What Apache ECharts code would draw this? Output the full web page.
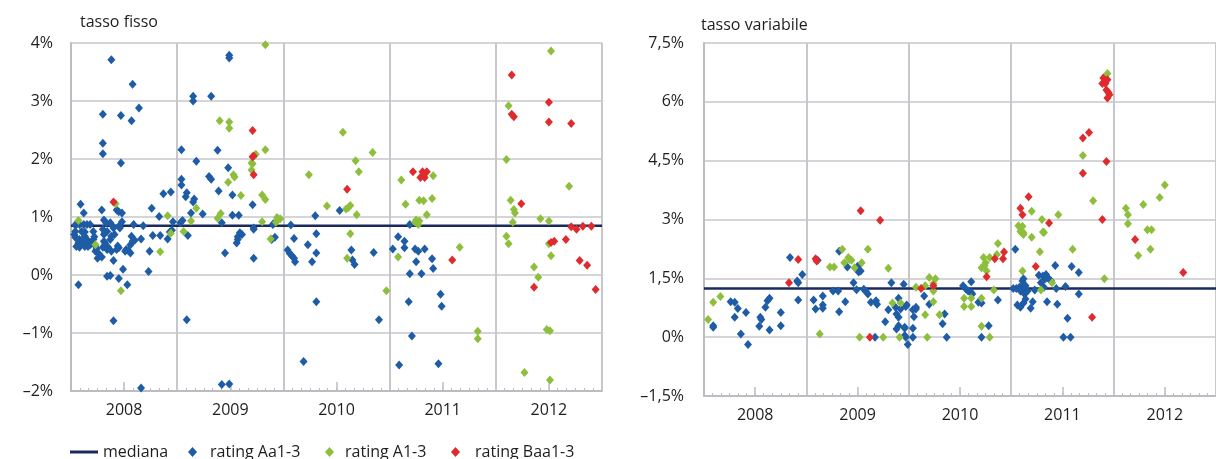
<!DOCTYPE html>
<html>
<head>
<meta charset="utf-8">
<script src="https://cdn.jsdelivr.net/npm/echarts@6/dist/echarts.min.js"></script>
<style>
html,body{margin:0;padding:0;background:#fff;}
#chart{width:1216px;height:459px;}
</style>
</head>
<body>
<div id="chart"></div>
<script>
// ---------- data ----------
var yearLabels = [2008, 2009, 2010, 2011, 2012];
var labelPositions = [2008.5, 2009.5, 2010.5, 2011.5, 2012.5];
var xMin = 2008, xMax = 2013;

var fissoTicks = [-2, -1, 0, 1, 2, 3, 4];
var variabileTicks = [-1.5, 0, 1.5, 3, 4.5, 6, 7.5];

var medianaFisso = 0.85;
var medianaVariabile = 1.24;

var seriesNames = ['mediana', 'rating Aa1-3', 'rating A1-3', 'rating Baa1-3'];

// tasso fisso: [anno, tasso %]
var fissoAa = [
 [2008.38,3.71],[2008.58,3.29],[2008.64,2.88],[2008.30,2.77],[2008.47,2.75],[2008.57,2.66],[2008.30,2.27],[2008.30,2.09],[2008.47,1.93],
 [2009.04,2.16],[2009.15,3.08],[2009.15,3.00],[2009.32,3.08],[2009.49,3.79],[2009.49,3.74],[2009.38,2.15],[2009.18,1.96],[2009.48,1.85],
 [2009.04,1.65],[2009.04,1.55],[2009.30,1.70],[2009.32,1.65],[2009.09,1.42],[2009.08,1.35],[2009.39,1.45],[2009.52,1.38],[2008.87,1.40],
 [2008.94,1.43],[2008.76,1.15],[2009.16,1.31],[2009.15,1.26],[2009.13,1.07],[2009.24,1.05],[2009.52,1.03],[2009.58,1.03],[2009.71,1.21],
 [2010.30,1.02],[2008.09,1.22],[2008.12,1.07],[2008.29,1.12],[2008.43,1.12],[2008.48,1.07],[2008.45,1.09],[2008.83,1.01],[2009.91,0.89],[2010.07,0.86],
 [2008.07,-0.17],[2008.66,-1.95],[2008.40,-0.79],[2009.09,-0.77],[2009.42,-1.89],[2009.49,-1.88],[2010.19,-1.49],[2010.31,-0.46],
 [2008.34,-0.02],[2008.37,-0.01],[2008.45,-0.06],[2008.53,-0.17],[2008.49,0.10],[2008.73,0.06],[2008.40,0.25],[2008.25,0.29],[2008.29,0.31],
 [2008.74,0.41],[2008.56,0.38],[2008.54,0.42],[2008.52,0.44],[2008.51,0.41],[2008.34,0.45],[2008.44,0.50],[2008.45,0.47],[2008.43,0.44],
 [2008.38,0.41],[2008.57,0.67],[2008.58,0.58],[2008.56,0.52],[2008.60,0.60],[2008.66,0.62],[2008.68,0.85],[2008.77,0.68],[2008.84,0.68],
 [2008.91,0.62],[2008.93,0.74],[2008.95,0.77],[2008.96,0.92],[2008.59,0.87],[2008.48,0.92],[2008.45,0.84],[2008.46,0.81],[2008.41,0.70],
 [2008.38,0.67],[2008.37,0.61],[2008.38,0.87],[2008.37,0.90],[2008.40,0.81],[2008.31,0.95],[2008.33,0.90],[2008.30,0.79],[2008.34,0.75],
 [2008.32,0.73],[2008.32,0.55],[2008.30,0.48],[2008.34,0.44],[2008.35,0.48],[2008.23,0.41],[2008.24,0.45],[2008.26,0.37],[2008.18,0.87],
 [2008.15,0.87],[2008.12,0.87],[2008.08,0.87],[2008.05,0.87],[2008.04,0.86],[2008.21,0.75],[2008.04,0.75],[2008.05,0.64],[2008.08,0.61],
 [2008.07,0.55],[2008.10,0.58],[2008.12,0.52],[2008.05,0.49],[2008.08,0.48],[2008.13,0.67],[2008.15,0.61],[2008.16,0.55],[2008.13,0.49],
 [2008.16,0.49],[2008.18,0.52],[2008.21,0.61],[2008.19,0.55],[2008.10,0.75],[2008.13,0.74],[2008.22,0.66],[2008.23,0.50],[2008.33,0.47],
 [2008.31,0.58],[2008.31,0.70],[2008.03,0.70],[2008.04,0.65],
 [2009.03,0.90],[2009.05,0.94],[2009.10,0.68],[2009.45,0.38],[2009.57,0.66],[2009.59,0.73],[2009.61,0.70],[2009.56,0.55],[2009.57,0.61],
 [2009.72,0.29],[2009.72,0.81],[2009.72,0.79],[2009.89,0.61],[2009.92,0.65],[2009.90,0.87],[2009.42,0.90],
 [2010.10,0.63],[2010.04,0.43],[2010.06,0.37],[2010.08,0.33],[2010.10,0.29],[2010.11,0.23],[2010.23,0.52],[2010.27,0.23],[2010.31,0.38],[2010.31,0.71],
 [2010.53,1.11],[2010.64,0.43],[2010.65,0.26],[2010.67,0.18],[2010.85,0.39],[2010.90,-0.77],[2011.08,0.66],[2011.14,0.58],[2011.14,0.47],
 [2011.03,0.45],[2011.19,0.87],[2011.24,0.45],[2011.27,0.41],[2011.33,0.45],[2011.25,0.23],[2011.19,0.02],[2011.30,0.02],[2011.40,0.28],
 [2011.41,0.11],[2011.18,-0.46],[2011.48,-0.33],[2011.49,-0.54],[2011.21,-1.05],[2011.09,-1.55],[2011.46,-1.53]
];
var fissoA = [
 [2009.83,3.97],[2009.40,2.66],[2009.49,2.64],[2009.49,2.53],[2009.83,2.16],[2009.74,2.08],[2009.70,1.93],[2009.71,1.92],[2009.70,1.81],
 [2009.48,1.60],[2009.53,1.73],[2009.54,1.69],[2009.60,1.37],[2009.80,1.38],[2009.83,1.30],[2009.18,1.15],[2009.41,1.06],[2009.38,0.98],
 [2008.91,1.02],[2009.13,0.93],[2009.80,0.92],[2009.94,0.99],[2009.97,0.97],[2009.93,0.91],[2010.24,1.73],[2008.07,0.94],[2008.42,1.23],
 [2008.23,0.52],[2008.47,-0.27],[2008.84,0.40],[2008.94,0.72],[2009.06,0.75],[2009.88,0.62],
 [2012.52,3.86],[2012.12,2.92],[2012.10,1.99],[2012.69,1.53],[2012.14,1.29],[2012.17,1.13],[2012.18,1.07],[2012.16,0.91],[2012.42,0.97],
 [2012.50,0.93],[2010.56,2.46],[2010.84,2.11],[2010.68,1.97],[2010.71,1.78],[2010.41,1.19],[2010.63,1.20],[2010.61,1.16],[2010.59,1.14],
 [2010.69,1.04],[2011.11,1.64],[2011.41,1.71],[2011.15,1.22],[2011.28,1.29],[2011.32,1.28],[2011.40,1.32],[2011.35,1.04],[2011.25,0.95],
 [2011.28,0.93],[2011.24,0.91],[2011.27,0.87],[2010.63,0.71],[2010.60,0.29],[2010.97,-0.27],[2011.08,0.31],[2011.66,0.48],[2011.83,-0.97],
 [2011.83,-1.10],[2012.10,0.67],[2012.12,0.54],[2012.50,0.54],[2012.52,0.33],[2012.36,0.14],[2012.40,-0.04],[2012.48,-0.94],[2012.51,-0.96],
 [2012.27,-1.68],[2012.51,-1.81]
];
var fissoBaa = [
 [2009.71,2.49],[2009.71,2.04],[2009.72,2.05],[2009.72,1.73],[2008.40,1.26],[2012.15,3.45],[2012.50,2.98],[2012.15,2.77],[2012.17,2.73],
 [2012.50,2.64],[2012.71,2.61],[2010.60,1.48],[2011.22,1.78],[2011.31,1.78],[2011.35,1.78],[2011.29,1.68],[2011.33,1.68],[2011.32,1.73],
 [2012.24,1.23],[2012.71,0.83],[2012.76,0.79],[2012.82,0.84],[2012.90,0.84],[2011.59,0.26],[2012.55,0.58],[2012.52,0.56],[2012.66,0.61],
 [2012.36,-0.21],[2012.79,0.25],[2012.86,0.17],[2012.94,-0.25]
];

// tasso variabile: [anno, tasso %]
var variabileAa = [
 [2008.09,0.29],[2008.09,0.25],[2008.26,0.90],[2008.30,0.89],[2008.30,0.51],[2008.33,0.73],[2008.36,0.08],[2008.41,0.63],[2008.43,-0.19],
 [2008.55,0.51],[2008.56,0.45],[2008.54,0.28],[2008.60,0.76],[2008.62,0.93],[2008.64,0.99],[2008.64,0.18],[2008.75,0.63],[2008.75,0.29],
 [2008.84,2.03],[2008.91,1.43],[2008.92,1.39],[2008.96,1.60],[2008.92,0.95],[2009.07,0.95],[2009.09,0.72],[2009.16,1.05],[2009.16,0.82],
 [2009.16,0.74],[2009.26,1.18],[2009.31,1.18],[2009.32,0.65],[2009.32,2.19],[2009.38,0.90],[2009.40,1.79],[2009.46,1.39],[2009.49,1.21],
 [2009.50,1.81],[2009.51,1.66],[2009.53,1.69],[2009.56,1.22],[2009.58,1.18],[2009.60,1.10],[2009.63,0.89],[2009.68,0.93],[2009.69,0.84],
 [2009.67,0.00],[2009.77,0.39],[2009.80,0.70],[2009.83,1.39],[2009.88,0.21],[2009.90,0.29],[2009.87,0.76],[2009.88,0.59],[2009.90,0.51],
 [2009.92,0.72],[2009.90,0.99],[2009.95,1.35],[2009.96,0.25],[2009.96,0.04],[2009.99,-0.19],[2009.98,0.82],[2009.11,1.96],[2009.96,0.23],
 [2010.04,0.23],[2009.97,0.00],[2010.04,0.00],[2010.05,0.52],[2010.07,0.72],[2010.04,0.70],[2009.97,0.78],[2010.07,0.76],
 [2010.15,1.05],[2010.20,0.84],[2010.35,0.59],[2010.33,0.34],[2010.37,0.00],[2010.53,1.31],[2010.56,1.22],[2010.58,1.18],[2010.61,1.14],
 [2010.62,1.10],[2010.61,1.41],[2010.68,0.89],[2010.71,0.87],[2010.87,0.95],[2010.78,0.29],[2010.71,0.00],[2011.04,2.24],[2011.02,1.24],
 [2011.05,1.24],[2011.08,1.27],[2011.09,1.18],[2011.11,1.22],[2011.12,1.35],[2011.11,1.43],[2011.14,1.31],[2011.16,1.18],[2011.12,1.49],
 [2011.13,1.10],[2011.14,0.97],[2011.12,0.87],[2011.06,0.82],[2011.09,0.76],[2011.19,0.74],[2011.21,0.90],[2011.23,1.20],[2011.27,1.58],
 [2011.31,1.56],[2011.34,1.60],[2011.35,1.52],[2011.37,1.48],[2011.39,1.43],[2011.33,1.48],[2011.29,1.39],[2011.32,1.27],[2011.43,1.83],
 [2011.44,1.24],[2011.53,1.29],[2011.59,1.80],[2011.66,1.65],[2011.66,1.10],[2011.35,0.90],[2011.45,0.84],[2011.55,0.48],[2011.51,0.00],[2011.58,0.00]
];
var variabileA = [
 [2008.04,0.45],[2008.09,0.89],[2008.16,1.04],[2009.13,0.08],[2009.23,1.79],[2009.27,1.79],[2009.35,2.24],[2009.37,1.90],[2009.41,2.03],
 [2009.44,1.96],[2009.42,1.98],[2009.47,1.77],[2009.54,1.90],[2009.60,2.24],[2009.52,0.00],[2009.75,0.00],[2009.80,1.76],[2009.84,0.87],
 [2009.92,0.87],[2009.91,0.00],
 [2010.07,1.27],[2010.16,1.31],[2010.20,1.52],[2010.26,1.49],[2010.24,1.37],[2010.24,1.18],[2010.24,0.90],[2010.16,0.57],[2010.30,0.57],
 [2010.18,0.00],[2010.54,0.99],[2010.61,0.99],[2010.71,0.99],[2010.54,0.78],[2010.61,0.78],[2010.71,0.28],[2010.79,0.00],[2010.83,1.20],
 [2010.71,1.77],[2010.74,1.83],[2010.75,1.90],[2010.73,2.03],[2010.76,1.69],[2010.79,2.03],[2010.86,2.11],[2010.87,2.39],[2011.11,1.69],
 [2011.29,1.20],[2011.40,1.39],[2011.28,2.18],[2011.20,2.55],[2011.32,2.67],[2011.10,2.67],[2011.12,2.62],[2011.60,2.24],[2011.91,1.49],
 [2011.20,3.21],[2011.07,2.84],[2011.11,2.83],[2011.09,2.70],[2011.12,2.66],[2011.30,3.00],[2011.46,3.12],[2011.31,2.68],[2011.80,3.48],
 [2012.12,3.29],[2012.14,3.12],[2012.14,2.89],[2012.29,3.38],[2012.33,2.74],[2012.37,2.74],[2012.24,2.08],[2012.36,2.24],[2011.94,6.72],
 [2011.70,4.63],[2012.50,3.88],[2012.45,3.56]
];
var variabileBaa = [
 [2009.53,3.22],[2009.72,2.98],[2008.83,1.39],[2008.92,1.98],[2009.09,2.00],[2009.10,1.94],[2009.62,0.00],[2010.12,1.24],[2010.24,1.31],
 [2010.76,1.54],[2010.84,2.00],[2010.92,2.00],[2010.93,2.17],[2011.24,1.80],[2011.79,0.51],[2011.09,3.29],[2011.11,3.12],[2011.37,2.91],
 [2011.89,3.00],[2012.21,2.49],[2012.68,1.65],[2011.90,6.61],[2011.94,6.56],[2011.89,6.47],[2011.92,6.47],[2011.93,6.30],[2011.95,6.24],
 [2011.96,6.18],[2011.94,6.10],[2011.70,5.08],[2011.76,5.22],[2011.93,4.48],[2011.70,4.18],[2011.17,3.58]
];

// ---------- style ----------
var FONT = "'Open Sans', 'Noto Sans', sans-serif";
var TEXT = '#1e1e1e';
var BLUE = '#1f5ca6', GREEN = '#8dbf3c', RED = '#df2a2e', NAVY = '#1b2a5c';
var GRIDC = '#c7c7cc', AXISC = '#bcbcc2';

function pct(v, comma) {
  var s = String(Math.abs(v));
  if (comma) s = s.replace('.', ',');
  return (v < 0 ? '\u2013' : '') + s + '%';
}

function gridAxes(gridIndex) {
  return [
    { // main axis: grid lines, monthly minor ticks
      type: 'value', gridIndex: gridIndex, min: xMin, max: xMax, interval: 1,
      axisLine: { show: true, onZero: false, lineStyle: { color: AXISC, width: 2 } },
      axisTick: { show: false, inside: true },
      minorTick: { show: true, splitNumber: 12, length: 3, lineStyle: { color: AXISC, width: 1 } },
      axisLabel: { show: false },
      splitLine: { show: true, lineStyle: { color: GRIDC, width: 2 } }
    },
    { // label axis: year labels at mid-year
      type: 'value', gridIndex: gridIndex, position: 'bottom', min: xMin, max: xMax,
      axisLine: { show: false, onZero: false },
      axisTick: { show: true, inside: true, length: 9, customValues: labelPositions, lineStyle: { color: AXISC, width: 1.5 } },
      axisLabel: { show: true, customValues: labelPositions, margin: 11,
        formatter: function (v) { return String(yearLabels[labelPositions.indexOf(v)]); },
        fontFamily: FONT, fontSize: 16, color: TEXT },
      splitLine: { show: false }
    }
  ];
}

function scatter(name, data, color, xi, yi) {
  return { name: name, type: 'scatter', xAxisIndex: xi, yAxisIndex: yi, data: data,
    symbol: 'diamond', symbolSize: [8, 9], itemStyle: { color: color, opacity: 1 }, z: 3 };
}
function median(value, xi, yi) {
  return { name: seriesNames[0], type: 'line', xAxisIndex: xi, yAxisIndex: yi,
    data: [[xMin, value], [xMax, value]], symbol: 'none', silent: true, z: 2,
    lineStyle: { color: NAVY, width: 2.5 }, itemStyle: { color: NAVY } };
}

function legendItem(item, left, w, h, pad) {
  return { orient: 'horizontal', top: 444, left: left, padding: 0, selectedMode: false,
    data: [item], itemWidth: w, itemHeight: h,
    textStyle: { fontFamily: FONT, fontSize: 16, color: TEXT, padding: [0, 0, 0, pad] } };
}

var option = {
  animation: false,
  backgroundColor: '#fff',
  title: [
    { text: 'tasso fisso', left: 75, top: 9, textStyle: { fontFamily: FONT, fontSize: 16, fontWeight: 'normal', color: TEXT } },
    { text: 'tasso variabile', left: 696, top: 12, textStyle: { fontFamily: FONT, fontSize: 16, fontWeight: 'normal', color: TEXT } }
  ],
  legend: [
    legendItem({ name: seriesNames[0], icon: 'rect' }, 70, 28, 3, 0),
    legendItem({ name: seriesNames[1] }, 188, 9, 10, 8),
    legendItem({ name: seriesNames[2] }, 325, 9, 10, 6),
    legendItem({ name: seriesNames[3] }, 451, 9, 10, 10)
  ],
  grid: [
    { left: 71, top: 43, width: 531, height: 348, containLabel: false },
    { left: 704, top: 43, width: 529, height: 353, containLabel: false }
  ],
  xAxis: gridAxes(0).concat(gridAxes(1)),
  yAxis: [
    { type: 'value', gridIndex: 0, min: fissoTicks[0], max: fissoTicks[fissoTicks.length - 1], interval: 1,
      axisLine: { show: true, onZero: false, lineStyle: { color: AXISC, width: 2 } }, axisTick: { show: false },
      axisLabel: { margin: 18, fontFamily: FONT, fontSize: 16, color: TEXT, formatter: function (v) { return pct(v, false); } },
      splitLine: { show: true, lineStyle: { color: GRIDC, width: 1.5 } } },
    { type: 'value', gridIndex: 1, min: variabileTicks[0], max: variabileTicks[variabileTicks.length - 1], interval: 1.5,
      axisLine: { show: true, onZero: false, lineStyle: { color: AXISC, width: 2 } }, axisTick: { show: false },
      axisLabel: { margin: 20, fontFamily: FONT, fontSize: 16, color: TEXT, formatter: function (v) { return pct(v, true); } },
      splitLine: { show: true, lineStyle: { color: GRIDC, width: 1.5 } } }
  ],
  series: [
    median(medianaFisso, 0, 0),
    scatter(seriesNames[1], fissoAa, BLUE, 0, 0),
    scatter(seriesNames[2], fissoA, GREEN, 0, 0),
    scatter(seriesNames[3], fissoBaa, RED, 0, 0),
    median(medianaVariabile, 2, 1),
    scatter(seriesNames[1], variabileAa, BLUE, 2, 1),
    scatter(seriesNames[2], variabileA, GREEN, 2, 1),
    scatter(seriesNames[3], variabileBaa, RED, 2, 1)
  ]
};

var chart = echarts.init(document.getElementById('chart'), null, { renderer: 'canvas' });
chart.setOption(option);
</script>
</body>
</html>
